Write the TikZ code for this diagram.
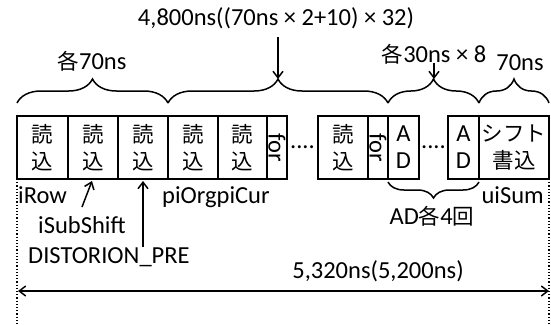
\documentclass[tikz,border=0pt]{standalone}
\usepackage{fontspec}
\setmainfont{Carlito}
\newfontfamily\jp{Noto Sans CJK JP}
\usetikzlibrary{decorations.pathreplacing,arrows.meta}
\begin{document}
\begin{tikzpicture}[x=1pt,y=-1pt,
  box/.style={draw,line width=1.5pt,minimum height=63pt,inner sep=0pt,align=center,font=\jp\fontsize{21.5}{27}\selectfont},
  lbox/.style={box,font=\fontsize{24.5}{27}\selectfont},
  lbl/.style={font=\fontsize{24.5}{27}\selectfont,inner sep=0pt},
  br/.style={decorate,decoration={brace,amplitude=24pt},line width=1.5pt},
  sbr/.style={decorate,decoration={brace,amplitude=16pt},line width=1.5pt},
  arr/.style={line width=1.5pt,-{Straight Barb[length=6.5pt,width=10pt]}},
  darr/.style={line width=1.5pt,{Straight Barb[length=6.5pt,width=10pt]}-{Straight Barb[length=6.5pt,width=10pt]}},
  vdot/.style={line width=1.2pt,dotted},
]
\useasboundingbox (0,0) rectangle (551,325);
% boxes
\node[box,minimum width=51pt] (r1) at (42.5,147.5) {読\\込};
\node[box,minimum width=50pt] (r2) at (93,147.5) {読\\込};
\node[box,minimum width=50pt] (r3) at (143,147.5) {読\\込};
\node[box,minimum width=50pt] (r4) at (193,147.5) {読\\込};
\node[box,minimum width=49pt] (r5) at (242.5,147.5) {読\\込};
\node[box,minimum width=20pt] (f1) at (277,147.5) {};
\node[lbl,rotate=-90] (f1t) at (f1.center) {for};
\node[lbl] (d1) at (302.5,147) {....};
\node[box,minimum width=50pt] (r6) at (343,147.5) {読\\込};
\node[box,minimum width=20pt] (f2) at (378,147.5) {};
\node[lbl,rotate=-90] (f2t) at (f2.center) {for};
\node[lbox,minimum width=31pt] (a1) at (403.5,147.5) {A\\D};
\node[lbl] (d2) at (433.5,147) {....};
\node[lbox,minimum width=31pt] (a2) at (463.5,147.5) {A\\D};
\node[box,minimum width=70pt] (s) at (514,147.5) {シフト\\書込};
% top braces
\coordinate (b1l) at (17,103);
\coordinate (b1r) at (168,103);
\coordinate (b2r) at (388,103);
\coordinate (b3r) at (479,103);
\coordinate (b4r) at (549,103);
\draw[br] (b1l) -- (b1r);
\draw[br] (b1r) -- (b2r);
\draw[br] (b2r) -- (b3r);
\draw[br] (b3r) -- (b4r);
% top labels
\node[lbl] (t1) at (276,18) {4,800ns((70ns × 2+10) × 32)};
\node[lbl] (t2) at (92,61) {{\jp\fontsize{21.5}{27}\selectfont 各}70ns};
\node[lbl] (t3) at (434,54) {{\jp\fontsize{21.5}{27}\selectfont 各}30ns × 8};
\node[lbl] (t4) at (520,63) {70ns};
\coordinate (p1s) at (278,37);
\coordinate (p1e) at (278,79);
\coordinate (p2s) at (434,63);
\coordinate (p2e) at (434,79);
\draw[arr] (p1s) -- (p1e);
\draw[arr] (p2s) -- (p2e);
% AD brace
\coordinate (adl) at (388,182);
\coordinate (adr) at (479,182);
\draw[sbr] (adr) -- (adl);
\node[lbl,anchor=base] (adt) at (432,224) {AD{\jp\fontsize{21.5}{27}\selectfont 各}4{\jp\fontsize{21.5}{27}\selectfont 回}};
% bottom labels
\node[lbl,anchor=base west] (irow) at (18,203) {iRow};
\node[lbl,anchor=base west] (isub) at (38,233) {iSubShift};
\node[lbl,anchor=base west] (dist) at (28,263) {DISTORION\_PRE};
\node[lbl,anchor=base west] (pio) at (162,203) {piOrgpiCur};
\node[lbl,anchor=base east] (uis) at (544,203) {uiSum};
\coordinate (q1s) at (82,207);
\coordinate (q1e) at (92,181);
\coordinate (q2s) at (143,247);
\coordinate (q2e) at (143,181);
\draw[arr] (q1s) -- (q1e);
\draw[arr] (q2s) -- (q2e);
% dotted verticals
\coordinate (vl1) at (17,179);
\coordinate (vl2) at (17,325);
\coordinate (vr1) at (549,179);
\coordinate (vr2) at (549,325);
\draw[vdot] (vl1) -- (vl2);
\draw[vdot] (vr1) -- (vr2);
% total
\node[lbl,anchor=base] (tot) at (378,278) {5,320ns(5,200ns)};
\coordinate (hl) at (18,291);
\coordinate (hr) at (549,291);
\draw[darr] (hl) -- (hr);
\end{tikzpicture}
\end{document}
